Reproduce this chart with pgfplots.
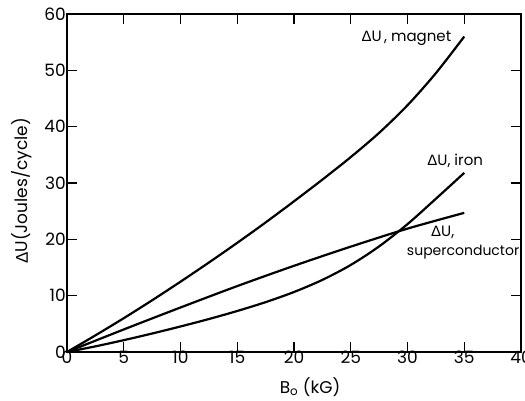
\documentclass[border=0pt]{standalone}
\usepackage{fontspec}
\setmainfont{Poppins}
\newfontfamily\greekfont{Liberation Sans}
\usepackage{pgfplots}
\pgfplotsset{compat=1.18}

\newcommand{\DU}{{\greekfont Δ}U}

\begin{document}
\begin{tikzpicture}
\begin{axis}[
    at={(0,0)}, anchor=south west,
    scale only axis,
    width=454pt, height=338pt,
    xmin=0, xmax=40, ymin=0, ymax=60,
    xtick={0,5,...,40}, ytick={0,10,...,60},
    tick align=inside,
    major tick length=10pt,
    axis line style={line width=2pt},
    every tick/.style={line width=1.4pt, black},
    /pgf/number format/assume math mode=true,
    tick label style={font=\fontsize{17}{19}\selectfont},
    xticklabel style={inner sep=1pt, yshift=2pt},
    yticklabel style={inner sep=1pt},
    clip=false,
]
    % magnet
    \addplot[black, line width=2.2pt, smooth] coordinates {
        (0,0) (2.5,2.95) (5,6.0) (7.5,9.18) (10,12.48) (12.5,15.88)
        (15,19.38) (17.5,23.0) (20,26.75) (22.5,30.6) (25,34.6)
        (27.5,38.9) (30,43.8) (32.5,49.5) (35,56.0)
    };
    % superconductor
    \addplot[black, line width=2.2pt, smooth] coordinates {
        (0,0) (5,4.0) (10,7.9) (15,11.7) (20,15.3) (25,18.7)
        (30,21.9) (35,24.7)
    };
    % iron
    \addplot[black, line width=2.2pt, smooth] coordinates {
        (0,0) (2.5,1.0) (5,2.1) (7.5,3.28) (10,4.53) (12.5,5.85)
        (15,7.28) (17.5,8.85) (20,10.65) (22.5,12.8) (25,15.45)
        (27.5,18.75) (30,22.7) (32.5,27.2) (35,31.8)
    };
    \node[font=\fontsize{15}{17}\selectfont] at (axis cs:29.9,55.7) {\DU\,, magnet};
    \node[font=\fontsize{15}{17}\selectfont] at (axis cs:34.2,33.9) {\DU, iron};
    \node[font=\fontsize{15}{17}\selectfont] at (axis cs:33.1,21.3) {\DU,};
    \node[font=\fontsize{14}{16}\selectfont] at (axis cs:34.9,17.8) {superconductor};
\end{axis}
\node[font=\fontsize{17}{19}\selectfont, rotate=90] at (-45pt,161pt) {\DU(Joules/cycle)};
\node[font=\fontsize{17}{19}\selectfont] at (243pt,-35pt) {B\textsubscript{o} (kG)};
\pgfresetboundingbox
\useasboundingbox (-67pt,-49pt) rectangle (458pt,352pt);
\end{tikzpicture}
\end{document}
